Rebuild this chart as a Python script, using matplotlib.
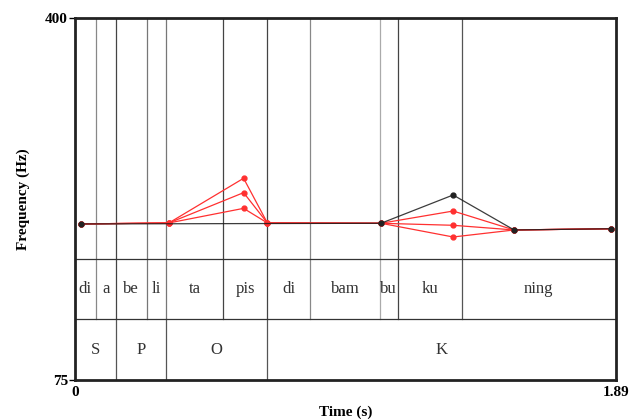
import matplotlib
matplotlib.use("Agg")
import matplotlib.pyplot as plt
import matplotlib.transforms as mtransforms

# pitch contours (time in s, frequency in Hz)
black_t = [0.021, 1.069, 1.321, 1.534, 1.873]
black_f = [215.1, 215.7, 241.1, 209.7, 210.8]

red_t = [0.021, 0.328, 0.589, 0.672, 1.069, 1.321, 1.534, 1.873]
red_f = [
    [215.1, 216.0, 256.1, 216.0, 215.7, 226.7, 209.7, 210.8],
    [215.1, 216.0, 243.2, 216.0, 215.7, 213.9, 209.7, 210.8],
    [215.1, 216.0, 229.1, 216.0, 215.7, 203.4, 209.7, 210.8],
]

# text grid tiers
syll_bounds = [0.0, 0.0723, 0.1432, 0.2505, 0.3179, 0.5181, 0.6718, 0.8210,
               1.0655, 1.1274, 1.3510, 1.89]
syll_labels = ["di", "a", "be", "li", "ta", "pis", "di", "bam", "bu", "ku", "ning"]
phrase_bounds = [0.0, 0.1432, 0.3179, 0.6718, 1.89]
phrase_labels = ["S", "P", "O", "K"]

t_max = 1.89
f_min, f_max = 75, 400

serif = ["Liberation Serif", "DejaVu Serif"]
plt.rcParams["font.family"] = serif

fig = plt.figure(figsize=(6.31, 4.19), dpi=100)
ax = fig.add_axes([75 / 631, 1 - 380 / 419, 541 / 631, 362 / 419])
ax.set_xlim(0, t_max)
ax.set_ylim(f_min, f_max)

trans = mtransforms.blended_transform_factory(ax.transData, ax.transAxes)
tier1_top, tier1_bot = 0.3343, 0.1685

# boundary lines
line_grey = ["#888888", "#444444", "#777777", "#777777", "#444444", "#444444",
             "#888888", "#aaaaaa", "#444444", "#555555"]
for b, c in zip(syll_bounds[1:-1], line_grey):
    ax.plot([b, b], [tier1_bot, 1], transform=trans, color=c, lw=0.9, zorder=1)
for b in phrase_bounds[1:-1]:
    ax.plot([b, b], [0, tier1_bot], transform=trans, color="#555555", lw=0.9, zorder=1)
for yy in (tier1_top, tier1_bot):
    ax.plot([0, t_max], [yy, yy], transform=trans, color="#333333", lw=0.9, zorder=1)

# tier labels
for i, lab in enumerate(syll_labels):
    xm = (syll_bounds[i] + syll_bounds[i + 1]) / 2
    ax.text(xm, (tier1_top + tier1_bot) / 2, lab, transform=trans, ha="center",
            va="center", fontsize=12, color="#333333")
for i, lab in enumerate(phrase_labels):
    xm = (phrase_bounds[i] + phrase_bounds[i + 1]) / 2
    ax.text(xm, tier1_bot / 2, lab, transform=trans, ha="center",
            va="center", fontsize=12, color="#333333")

# contours
for f in red_f:
    ax.plot(red_t, f, color="#ff3030", lw=0.9, marker="o", markersize=3.5, zorder=3)
ax.plot(black_t, black_f, color="#1a1a1a", lw=0.9, alpha=0.85, zorder=4)
ax.plot(black_t, black_f, ls="none", marker="o", markersize=3.5, color="#222222", zorder=5)

ax.set_xticks([0, t_max])
ax.set_xticklabels(["0", "1.89"])
ax.set_yticks([f_min, f_max])
ax.set_yticklabels(["75", "400"])
for lab in ax.get_xticklabels() + ax.get_yticklabels():
    lab.set_fontweight("bold")
    lab.set_fontsize(11)
ax.tick_params(axis="y", length=4, width=1, pad=1)
ax.tick_params(axis="x", length=0, pad=4)
for s in ax.spines.values():
    s.set_linewidth(2)
    s.set_color("#222222")

ax.set_xlabel("Time (s)", fontsize=11, fontweight="bold", labelpad=5)
ax.set_ylabel("Frequency (Hz)", fontsize=11, fontweight="bold", labelpad=11)

fig.savefig("out.png", dpi=100)
